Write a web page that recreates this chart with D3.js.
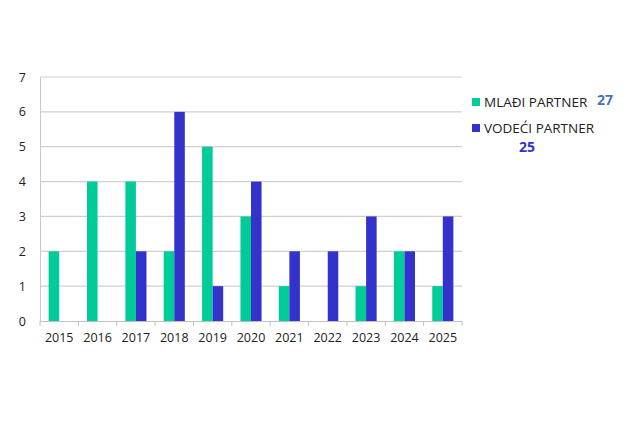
<!DOCTYPE html>
<html><head><meta charset="utf-8">
<script src="https://cdn.jsdelivr.net/npm/d3@7"></script>
<style>body{margin:0;background:#fff;}svg{display:block;}</style>
</head><body>
<svg id="c" width="628" height="443"></svg>
<script>
const years = ["2015","2016","2017","2018","2019","2020","2021","2022","2023","2024","2025"];
const mladi = [2,4,4,2,5,3,1,0,1,2,1];
const vodeci = [0,0,2,6,1,4,2,2,3,2,3];
const seriesNames = ["MLAĐI PARTNER","VODEĆI PARTNER"];
const seriesTotals = ["27","25"];
const yTicks = [0,1,2,3,4,5,6,7];

const colors = ["#00CC99","#3333CC"];
const svg = d3.select("#c");
const m = {l:40, r:462, t:77, b:321};
const x = d3.scaleBand().domain(years).range([m.l, m.r]).paddingInner(0.45).paddingOuter(0.225);
const xOuter = d3.scaleBand().domain(years).range([m.l, m.r]);
const y = d3.scaleLinear().domain([0,7]).range([m.b, m.t]);
const font = "'Open Sans', sans-serif";

// gridlines
svg.append("g").selectAll("line").data(yTicks.slice(1)).join("line")
  .attr("x1", m.l).attr("x2", m.r).attr("y1", d=>y(d)).attr("y2", d=>y(d))
  .attr("stroke","#d0d0d0").attr("stroke-width",1.2);

// y axis
const ya = svg.append("g").attr("transform",`translate(${m.l},0)`)
  .call(d3.axisLeft(y).tickValues(yTicks).tickFormat(d3.format("d")).tickSize(0).tickPadding(14));
ya.select(".domain").attr("stroke","#c8c8c8");
ya.selectAll("text").attr("font-family",font).attr("font-size","12.5px").attr("fill","#222");

// bars
const sub = d3.scaleBand().domain([0,1]).range([0, x.bandwidth()]);
const data = years.map((yr,i)=>({yr, v:[mladi[i], vodeci[i]]}));
const g = svg.append("g");
g.selectAll("g").data(data).join("g").attr("transform", d=>`translate(${x(d.yr)},0)`)
  .selectAll("rect").data(d=>d.v.map((v,k)=>({v,k}))).join("rect")
  .attr("x", d=>sub(d.k)).attr("width", sub.bandwidth())
  .attr("y", d=>y(d.v)).attr("height", d=>y(0)-y(d.v))
  .attr("fill", d=>colors[d.k]);

// x axis
const xa = svg.append("g").attr("transform",`translate(0,${m.b})`)
  .call(d3.axisBottom(xOuter).tickSize(0).tickPadding(12));
xa.select(".domain").attr("stroke","#c0c0c0");
xa.selectAll("text").attr("font-family",font).attr("font-size","12.5px").attr("fill","#222");
// tick marks between categories
svg.append("g").selectAll("line").data(d3.range(years.length+1)).join("line")
  .attr("x1", i=>m.l + i*xOuter.step()).attr("x2", i=>m.l + i*xOuter.step())
  .attr("y1", m.b).attr("y2", m.b+5).attr("stroke","#c0c0c0");

// legend
const lg = svg.append("g");
const ly = [102, 128];
seriesNames.forEach((n,i)=>{
  lg.append("rect").attr("x",472).attr("y",ly[i]-4).attr("width",8).attr("height",8).attr("fill",colors[i]);
  lg.append("text").attr("x",484).attr("y",ly[i]+5).text(n)
    .attr("font-family",font).attr("font-size","13.5px").attr("fill","#222");
});
lg.append("text").attr("x",597).attr("y",105).text(seriesTotals[0])
  .attr("font-family",font).attr("font-size","14px").attr("font-weight","bold").attr("fill","#4472C4");
lg.append("text").attr("x",519).attr("y",152).text(seriesTotals[1])
  .attr("font-family",font).attr("font-size","14px").attr("font-weight","bold").attr("fill","#3333CC");
</script>
</body></html>
